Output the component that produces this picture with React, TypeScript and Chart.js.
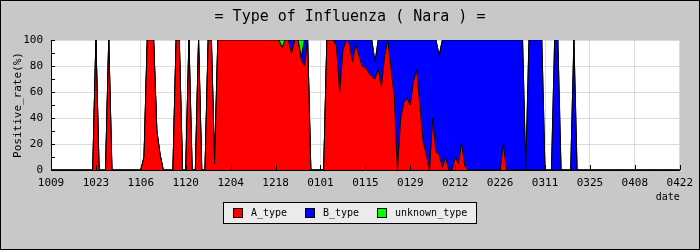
import React, { useEffect, useRef } from "react";
import { Chart, registerables } from "chart.js";

Chart.register(...registerables);

// x tick labels (every 14 days, 2011-10-09 .. 2012-04-22)
const tickLabels = ["1009", "1023", "1106", "1120", "1204", "1218", "0101", "0115", "0129", "0212", "0226", "0311", "0325", "0408", "0422"];
const seriesNames = ["A_type", "B_type", "unknown_type"];

// daily positive rates (%), one row = 14 days
const aType = [
  0, 0, 0, 0, 0, 0, 0, 0, 0, 0, 0, 0, 0, 0,
  100, 0, 0, 0, 100, 0, 0, 0, 0, 0, 0, 0, 0, 0,
  0, 10, 100, 100, 100, 30, 12, 0, 0, 0, 0, 100, 100, 0,
  0, 100, 0, 0, 100, 0, 0, 100, 100, 5, 100, 100, 100, 100,
  100, 100, 100, 100, 100, 100, 100, 100, 100, 100, 100, 100, 100, 100,
  100, 100, 94, 100, 100, 90, 100, 100, 85, 80, 100, 0, 0, 0,
  0, 0, 100, 100, 100, 95, 60, 92, 100, 97, 83, 97, 88, 80,
  79, 75, 72, 70, 78, 64, 88, 100, 78, 57, 0, 40, 52, 55,
  50, 68, 77, 50, 22, 12, 0, 40, 14, 12, 2, 10, 0, 0,
  10, 5, 21, 3, 0, 0, 0, 0, 0, 0, 0, 0, 0, 0,
  0, 20, 0, 0, 0, 0, 0, 0, 0, 0, 0, 0, 0, 0,
  0, 0, 0, 0, 0, 0, 0, 0, 0, 0, 0, 0, 0, 0,
  0, 0, 0, 0, 0, 0, 0, 0, 0, 0, 0, 0, 0, 0,
  0, 0, 0, 0, 0, 0, 0, 0, 0, 0, 0, 0, 0, 0,
  0,
];
const bType = [
  0, 0, 0, 0, 0, 0, 0, 0, 0, 0, 0, 0, 0, 0,
  0, 0, 0, 0, 0, 0, 0, 0, 0, 0, 0, 0, 0, 0,
  0, 0, 0, 0, 0, 0, 0, 0, 0, 0, 0, 0, 0, 0,
  0, 0, 0, 0, 0, 0, 0, 0, 0, 0, 0, 0, 0, 0,
  0, 0, 0, 0, 0, 0, 0, 0, 0, 0, 0, 0, 0, 0,
  0, 0, 0, 0, 0, 10, 0, 0, 2, 20, 0, 0, 0, 0,
  0, 0, 0, 0, 0, 5, 40, 8, 0, 3, 17, 3, 12, 20,
  21, 25, 28, 13, 22, 36, 12, 0, 22, 43, 100, 60, 48, 45,
  50, 32, 23, 50, 78, 88, 100, 60, 86, 76, 98, 90, 100, 100,
  90, 95, 79, 97, 100, 100, 100, 100, 100, 100, 100, 100, 100, 100,
  100, 80, 100, 100, 100, 100, 100, 100, 0, 100, 100, 100, 100, 100,
  0, 0, 0, 100, 100, 0, 0, 0, 0, 100, 0, 0, 0, 0,
  0, 0, 0, 0, 0, 0, 0, 0, 0, 0, 0, 0, 0, 0,
  0, 0, 0, 0, 0, 0, 0, 0, 0, 0, 0, 0, 0, 0,
  0,
];
const unknownType = [
  0, 0, 0, 0, 0, 0, 0, 0, 0, 0, 0, 0, 0, 0,
  0, 0, 0, 0, 0, 0, 0, 0, 0, 0, 0, 0, 0, 0,
  0, 0, 0, 0, 0, 0, 0, 0, 0, 0, 0, 0, 0, 0,
  0, 0, 0, 0, 0, 0, 0, 0, 0, 0, 0, 0, 0, 0,
  0, 0, 0, 0, 0, 0, 0, 0, 0, 0, 0, 0, 0, 0,
  0, 0, 6, 0, 0, 0, 0, 0, 13, 0, 0, 0, 0, 0,
  0, 0, 0, 0, 0, 0, 0, 0, 0, 0, 0, 0, 0, 0,
  0, 0, 0, 0, 0, 0, 0, 0, 0, 0, 0, 0, 0, 0,
  0, 0, 0, 0, 0, 0, 0, 0, 0, 0, 0, 0, 0, 0,
  0, 0, 0, 0, 0, 0, 0, 0, 0, 0, 0, 0, 0, 0,
  0, 0, 0, 0, 0, 0, 0, 0, 0, 0, 0, 0, 0, 0,
  0, 0, 0, 0, 0, 0, 0, 0, 0, 0, 0, 0, 0, 0,
  0, 0, 0, 0, 0, 0, 0, 0, 0, 0, 0, 0, 0, 0,
  0, 0, 0, 0, 0, 0, 0, 0, 0, 0, 0, 0, 0, 0,
  0,
];

const COLORS = ["#ff0000", "#0000ff", "#00ff00"];
const MONO = '"DejaVu Sans Mono", monospace';
const DAYS_PER_TICK = 14;

const decorPlugin = {
  id: "decor",
  beforeDraw(chart: any) {
    const { ctx, chartArea: a } = chart;
    ctx.save();
    ctx.fillStyle = "#c8c8c8";
    ctx.fillRect(0, 0, chart.width, chart.height);
    ctx.fillStyle = "#ffffff";
    ctx.fillRect(a.left, a.top, a.right - a.left, a.bottom - a.top);
    ctx.restore();
  },
  afterDatasetsDraw(chart: any) {
    const { ctx, chartArea: a, scales } = chart;
    ctx.save();
    ctx.strokeStyle = "#000";
    ctx.lineWidth = 1;
    ctx.beginPath();
    for (let i = 0; i < tickLabels.length; i++) {
      const x = Math.round(scales.x.getPixelForValue(i * DAYS_PER_TICK)) + 0.5;
      ctx.moveTo(x, a.bottom);
      ctx.lineTo(x, a.bottom - 5);
    }
    for (let v = 0; v <= 100; v += 10) {
      const y = Math.round(scales.y.getPixelForValue(v)) + 0.5;
      ctx.moveTo(a.left, y);
      ctx.lineTo(a.left + 4, y);
    }
    ctx.stroke();
    ctx.restore();
  },
  afterDraw(chart: any) {
    const { ctx } = chart;
    ctx.save();
    // title
    ctx.fillStyle = "#000";
    ctx.font = `15px ${MONO}`;
    ctx.textAlign = "center";
    ctx.textBaseline = "alphabetic";
    ctx.fillText("= Type of Influenza ( Nara ) =", 350, 21);
    // legend
    ctx.fillStyle = "#ebebeb";
    ctx.fillRect(223.5, 202.5, 253, 21);
    ctx.strokeStyle = "#000";
    ctx.lineWidth = 1;
    ctx.strokeRect(223.5, 202.5, 253, 21);
    const xs = [233, 305, 377];
    ctx.font = `10px ${MONO}`;
    ctx.textAlign = "left";
    ctx.textBaseline = "middle";
    seriesNames.forEach((n, i) => {
      ctx.fillStyle = COLORS[i];
      ctx.fillRect(xs[i] + 0.5, 208.5, 9, 9);
      ctx.strokeRect(xs[i] + 0.5, 208.5, 9, 9);
      ctx.fillStyle = "#000";
      ctx.fillText(n, xs[i] + 18, 213.5);
    });
    // outer frame
    ctx.strokeStyle = "#000";
    ctx.strokeRect(0.5, 0.5, chart.width - 1, chart.height - 1);
    ctx.restore();
  },
};

export default function App() {
  const ref = useRef<HTMLCanvasElement | null>(null);
  useEffect(() => {
    if (!ref.current) return;
    const series = [aType, bType, unknownType];
    const chart = new Chart(ref.current, {
      type: "line",
      data: {
        datasets: series.map((arr, i) => ({
          label: seriesNames[i],
          data: arr.map((v, d) => ({ x: d, y: v })),
          backgroundColor: COLORS[i],
          borderColor: "#000",
          borderWidth: 1,
          fill: i === 0 ? "origin" : "-1",
          pointRadius: 0,
          tension: 0,
        })),
      },
      options: {
        animation: false,
        responsive: false,
        layout: { padding: { left: 0, right: 20, top: 40, bottom: 0 } },
        plugins: {
          legend: { display: false },
          title: { display: false },
          tooltip: { enabled: false },
        },
        scales: {
          x: {
            type: "linear",
            min: 0,
            max: (tickLabels.length - 1) * DAYS_PER_TICK,
            afterBuildTicks: (s: any) => {
              s.ticks = tickLabels.map((_, i) => ({ value: i * DAYS_PER_TICK }));
            },
            afterFit: (s: any) => {
              s.height = 80;
            },
            ticks: {
              autoSkip: false,
              maxRotation: 0,
              padding: 7,
              color: "#000",
              font: { family: MONO, size: 11 },
              callback: (v: any) => tickLabels[Math.round(Number(v) / DAYS_PER_TICK)],
            },
            grid: { color: "#dcdcdc", drawTicks: false },
            border: { color: "#000", width: 1 },
            title: {
              display: true,
              text: "date",
              align: "end",
              color: "#000",
              font: { family: MONO, size: 10 },
              padding: { top: 0, bottom: 47 },
            },
          },
          y: {
            stacked: true,
            min: 0,
            max: 100,
            afterFit: (s: any) => {
              s.width = 51;
            },
            ticks: {
              stepSize: 20,
              padding: 8,
              color: "#000",
              font: { family: MONO, size: 11 },
            },
            grid: { color: "#dcdcdc", drawTicks: false },
            border: { color: "#000", width: 1 },
            title: {
              display: true,
              text: "Positive_rate(%)",
              color: "#000",
              font: { family: MONO, size: 11 },
              padding: { top: 12, bottom: 0 },
            },
          },
        },
      } as any,
      plugins: [decorPlugin],
    });
    return () => chart.destroy();
  }, []);
  return (
    <div style={{ position: "fixed", left: 0, top: 0, width: 700, height: 250 }}>
      <canvas ref={ref} width={700} height={250} style={{ width: 700, height: 250, display: "block" }} />
    </div>
  );
}
